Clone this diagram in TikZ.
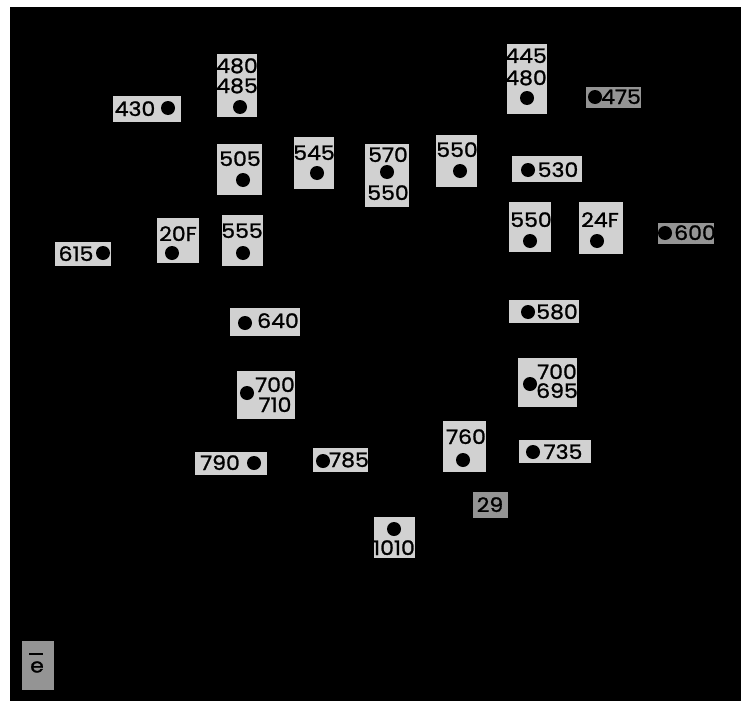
\documentclass[tikz,border=0pt]{standalone}
\usepackage{fontspec}
\setmainfont{Poppins}
\newfontfamily\numfont{Poppins}[FakeBold=1.2,FakeStretch=1.1]
\definecolor{boxfill}{gray}{0.82}
\definecolor{boxdark}{gray}{0.58}
\tikzset{
  box/.style={fill=boxfill, draw=none, inner sep=0pt},
  darkbox/.style={box, fill=boxdark},
  lbl/.style={inner sep=0pt, text height=14pt, text depth=0pt, font=\numfont\fontsize{20}{20}\selectfont, text=black},
  dot/.style={circle, fill=black, minimum size=14pt, inner sep=0pt}
}
\newcommand\pbox[6][box]{\node[#1, minimum width=#5pt, minimum height=#6pt] (#2) at (#3,#4) {};}
\begin{document}
\begin{tikzpicture}[x=1pt,y=-1pt]
\useasboundingbox (0,0) rectangle (749,701);
\fill[white] (0,0) rectangle (749,701);
\fill[black] (10,7) rectangle (741,701);
% 430
\pbox{b430}{147}{109}{68}{26}
\node[lbl] (t430) at (135,109) {430};
\node[dot] (d430) at (168,108) {};
% 480 485
\pbox{b480}{237}{85.5}{40}{63}
\node[lbl] (t480a) at (237,66) {480};
\node[lbl] (t485) at (237,86) {485};
\node[dot] (d480) at (240,107) {};
% 505
\pbox{b505}{239.5}{169.5}{45}{51}
\node[lbl] (t505) at (240,159) {505};
\node[dot] (d505) at (243,180) {};
% 545
\pbox{b545}{314}{163}{40}{52}
\node[lbl] (t545) at (314,153) {545};
\node[dot] (d545) at (317,173) {};
% 570 550
\pbox{b570}{387}{175.5}{44}{63}
\node[lbl] (t570) at (388,155) {570};
\node[dot] (d570) at (387,172) {};
\node[lbl] (t550c) at (388,193) {550};
% 550 top
\pbox{b550a}{456.5}{161}{41}{52}
\node[lbl] (t550a) at (457,150) {550};
\node[dot] (d550a) at (460,171) {};
% 445 480
\pbox{b445}{527}{79}{40}{70}
\node[lbl] (t445) at (526,56) {445};
\node[lbl] (t480b) at (526,78) {480};
\node[dot] (d445) at (527,98) {};
% 475
\pbox[darkbox]{b475}{613.5}{97.5}{55}{21}
\node[dot] (d475) at (595,97) {};
\node[lbl] (t475) at (621,97) {475};
% 530
\pbox{b530}{547}{169}{70}{26}
\node[dot] (d530) at (528,170) {};
\node[lbl] (t530) at (558,170) {530};
% 615
\pbox{b615}{83}{254}{56}{24}
\node[lbl] (t615) at (76,254) {615};
\node[dot] (d615) at (103,253) {};
% 20F
\pbox{b20F}{178}{240.5}{42}{45}
\node[lbl] (t20F) at (178,234) {20F};
\node[dot] (d20F) at (172,253) {};
% 555
\pbox{b555}{242.5}{240.5}{41}{51}
\node[lbl] (t555) at (242,231) {555};
\node[dot] (d555) at (243,253) {};
% 550 right
\pbox{b550b}{530}{227}{42}{50}
\node[lbl] (t550b) at (531,220) {550};
\node[dot] (d550b) at (530,241) {};
% 24F
\pbox{b24F}{601}{228}{44}{52}
\node[lbl] (t24F) at (600,220) {24F};
\node[dot] (d24F) at (597,241) {};
% 600
\pbox[darkbox]{b600}{686}{233.5}{56}{21}
\node[dot] (d600) at (665,233) {};
\node[lbl] (t600) at (695,233) {600};
% 640
\pbox{b640}{265}{322}{70}{28}
\node[dot] (d640) at (245,323) {};
\node[lbl] (t640) at (278,321) {640};
% 700 710
\pbox{b700a}{266}{395}{58}{48}
\node[dot] (d700a) at (247,393) {};
\node[lbl] (t700a) at (275,385) {700};
\node[lbl] (t710) at (275,405) {710};
% 790
\pbox{b790}{231}{463.5}{72}{23}
\node[lbl] (t790) at (220,463) {790};
\node[dot] (d790) at (254,463) {};
% 580
\pbox{b580}{544}{311.5}{70}{23}
\node[dot] (d580) at (528,312) {};
\node[lbl] (t580) at (557,312) {580};
% 700 695
\pbox{b700b}{547.5}{382.5}{59}{49}
\node[dot] (d700b) at (530,384) {};
\node[lbl] (t700b) at (557,372) {700};
\node[lbl] (t695) at (557,391) {695};
% 760
\pbox{b760}{464.5}{446.5}{43}{51}
\node[lbl] (t760) at (466,437) {760};
\node[dot] (d760) at (463,460) {};
% 735
\pbox{b735}{555}{451.5}{72}{23}
\node[dot] (d735) at (533,452) {};
\node[lbl] (t735) at (563,452) {735};
% 785
\pbox{b785}{340.5}{460}{55}{24}
\node[dot] (d785) at (323,461) {};
\node[lbl] (t785) at (349,460) {785};
% 29
\pbox[darkbox]{b29}{490.5}{505}{35}{26}
\node[lbl] (t29) at (490,505) {29};
% 1010
\pbox{b1010}{394.5}{537.5}{41}{41}
\node[dot] (d1010) at (394,529) {};
\node[lbl] (t1010) at (394,548) {1010};
% e bar
\pbox[darkbox]{be}{38}{665.5}{32}{49}
\node[inner sep=0pt, font=\numfont\fontsize{20}{20}\selectfont] (te) at (37,667) {e};
\coordinate (barl) at (29,654);
\coordinate (barr) at (43,654);
\draw[line width=1.8pt] (barl) -- (barr);
\end{tikzpicture}
\end{document}
